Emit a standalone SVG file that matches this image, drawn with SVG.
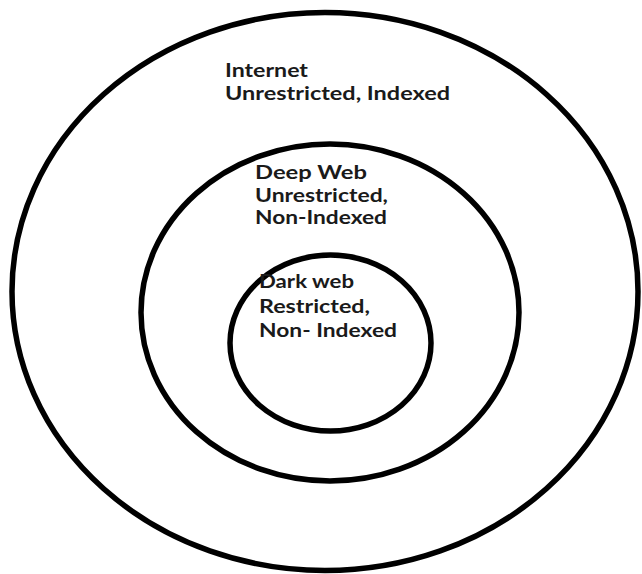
<svg xmlns="http://www.w3.org/2000/svg" width="642" height="574" viewBox="0 0 642 574">
<style>
.ring{fill:none;stroke:#000;stroke-width:5.5}
.lbl{font-family:Lato,"Open Sans","Liberation Sans",sans-serif;font-weight:bold;font-size:18px;fill:#1a1a1a}
</style>
<rect width="642" height="574" fill="#fff"/>
<g id="internet">
<ellipse class="ring" cx="325" cy="291.5" rx="313" ry="279"/>
<text class="lbl" x="225" y="77" textLength="83" lengthAdjust="spacingAndGlyphs">Internet</text>
<text class="lbl" x="225" y="100" textLength="225" lengthAdjust="spacingAndGlyphs">Unrestricted, Indexed</text>
</g>
<g id="deepweb">
<ellipse class="ring" cx="330" cy="312.5" rx="189" ry="168.5"/>
<text class="lbl" x="255" y="179" textLength="112" lengthAdjust="spacingAndGlyphs">Deep Web</text>
<text class="lbl" x="255" y="202" textLength="133" lengthAdjust="spacingAndGlyphs">Unrestricted,</text>
<text class="lbl" x="255" y="224" textLength="132" lengthAdjust="spacingAndGlyphs">Non-Indexed</text>
</g>
<g id="darkweb">
<ellipse class="ring" cx="330.5" cy="343" rx="100.5" ry="88"/>
<text class="lbl" x="259" y="288" textLength="95" lengthAdjust="spacingAndGlyphs">Dark web</text>
<text class="lbl" x="259" y="313" textLength="111" lengthAdjust="spacingAndGlyphs">Restricted,</text>
<text class="lbl" x="259" y="337" textLength="138" lengthAdjust="spacingAndGlyphs">Non- Indexed</text>
</g>
<g id="connectors"/>
</svg>
